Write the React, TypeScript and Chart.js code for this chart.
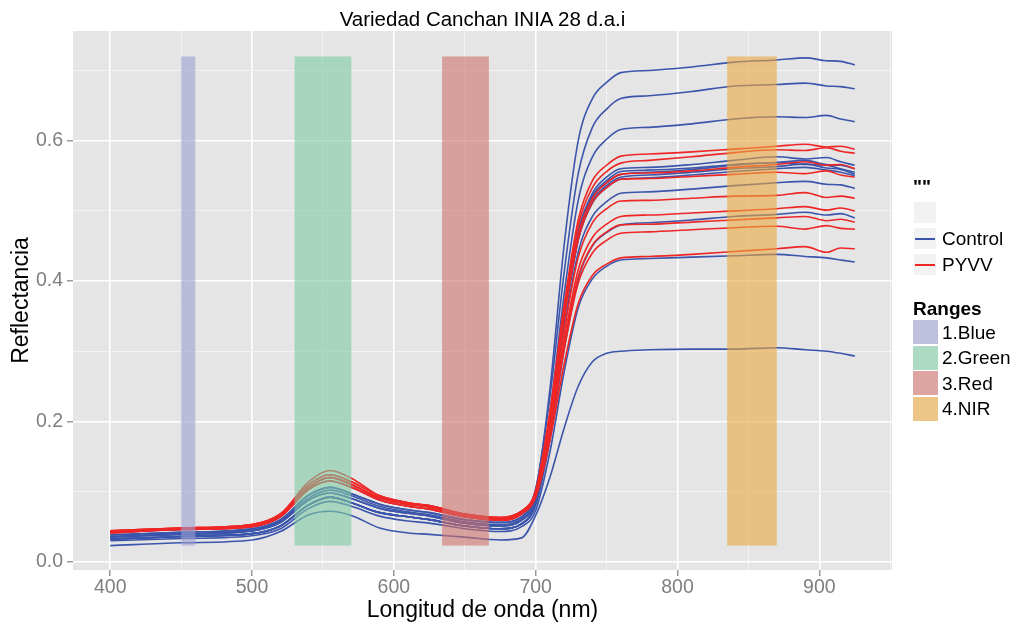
import React, { useEffect, useRef } from 'react';
import { Chart, registerables } from 'chart.js';

Chart.register(...registerables);

// Wavelengths (nm) at which the reflectance curves were read
const WAVELENGTHS = [400, 450, 500, 520, 540, 555, 570, 590, 610, 625, 650, 675, 690, 700, 710, 720, 730, 740, 750, 760, 780, 810, 840, 870, 890, 905, 915, 925];

// Control (blue) curves
const CONTROL_1 = [0.038, 0.042, 0.047, 0.060, 0.095, 0.106, 0.097, 0.082, 0.074, 0.070, 0.060, 0.056, 0.064, 0.102, 0.245, 0.450, 0.600, 0.660, 0.683, 0.697, 0.700, 0.705, 0.712, 0.715, 0.718, 0.714, 0.713, 0.708];
const CONTROL_2 = [0.041, 0.046, 0.050, 0.064, 0.103, 0.115, 0.106, 0.088, 0.079, 0.075, 0.064, 0.059, 0.068, 0.104, 0.234, 0.411, 0.553, 0.619, 0.645, 0.660, 0.664, 0.670, 0.678, 0.680, 0.682, 0.678, 0.677, 0.674];
const CONTROL_3 = [0.032, 0.036, 0.040, 0.051, 0.081, 0.092, 0.084, 0.070, 0.064, 0.060, 0.051, 0.047, 0.054, 0.088, 0.211, 0.380, 0.515, 0.577, 0.602, 0.616, 0.619, 0.624, 0.631, 0.634, 0.633, 0.636, 0.631, 0.627];
const CONTROL_4 = [0.038, 0.042, 0.047, 0.060, 0.095, 0.106, 0.097, 0.082, 0.074, 0.070, 0.060, 0.056, 0.064, 0.094, 0.203, 0.352, 0.471, 0.525, 0.548, 0.560, 0.562, 0.566, 0.572, 0.577, 0.574, 0.576, 0.570, 0.565];
const CONTROL_5 = [0.035, 0.039, 0.044, 0.056, 0.088, 0.098, 0.090, 0.076, 0.069, 0.065, 0.055, 0.051, 0.059, 0.089, 0.197, 0.345, 0.463, 0.517, 0.540, 0.552, 0.555, 0.559, 0.565, 0.569, 0.566, 0.565, 0.560, 0.555];
const CONTROL_6 = [0.032, 0.036, 0.040, 0.051, 0.081, 0.092, 0.084, 0.070, 0.064, 0.060, 0.051, 0.047, 0.054, 0.084, 0.192, 0.341, 0.459, 0.513, 0.536, 0.548, 0.551, 0.555, 0.560, 0.563, 0.567, 0.561, 0.559, 0.552];
const CONTROL_7 = [0.036, 0.040, 0.045, 0.058, 0.091, 0.102, 0.094, 0.079, 0.071, 0.067, 0.057, 0.053, 0.061, 0.090, 0.197, 0.342, 0.458, 0.511, 0.533, 0.545, 0.547, 0.551, 0.556, 0.560, 0.562, 0.558, 0.555, 0.550];
const CONTROL_8 = [0.035, 0.039, 0.044, 0.056, 0.088, 0.098, 0.090, 0.076, 0.069, 0.065, 0.055, 0.051, 0.059, 0.087, 0.189, 0.329, 0.441, 0.492, 0.513, 0.525, 0.527, 0.531, 0.536, 0.540, 0.542, 0.538, 0.537, 0.532];
const CONTROL_9 = [0.032, 0.036, 0.040, 0.051, 0.081, 0.092, 0.084, 0.070, 0.064, 0.060, 0.051, 0.047, 0.054, 0.080, 0.173, 0.301, 0.403, 0.450, 0.469, 0.480, 0.483, 0.487, 0.492, 0.495, 0.498, 0.494, 0.496, 0.490];
const CONTROL_10 = [0.030, 0.033, 0.037, 0.047, 0.076, 0.086, 0.079, 0.065, 0.058, 0.055, 0.047, 0.043, 0.050, 0.073, 0.156, 0.270, 0.362, 0.403, 0.421, 0.430, 0.432, 0.434, 0.436, 0.438, 0.435, 0.433, 0.430, 0.427];
const CONTROL_11 = [0.023, 0.027, 0.031, 0.043, 0.067, 0.072, 0.066, 0.048, 0.041, 0.039, 0.035, 0.031, 0.034, 0.066, 0.120, 0.190, 0.250, 0.285, 0.297, 0.300, 0.302, 0.303, 0.303, 0.305, 0.302, 0.300, 0.297, 0.293];
const CONTROL_12 = [0.032, 0.036, 0.040, 0.051, 0.081, 0.092, 0.084, 0.070, 0.064, 0.060, 0.051, 0.047, 0.054, 0.084, 0.195, 0.345, 0.466, 0.521, 0.543, 0.556, 0.558, 0.561, 0.566, 0.569, 0.572, 0.566, 0.565, 0.560];

// PYVV (red) curves
const PYVV_1 = [0.044, 0.048, 0.053, 0.068, 0.110, 0.124, 0.114, 0.094, 0.084, 0.080, 0.068, 0.063, 0.072, 0.102, 0.214, 0.365, 0.487, 0.543, 0.565, 0.578, 0.581, 0.584, 0.588, 0.592, 0.595, 0.591, 0.592, 0.588];
const PYVV_2 = [0.042, 0.047, 0.052, 0.066, 0.106, 0.120, 0.110, 0.091, 0.082, 0.078, 0.066, 0.061, 0.070, 0.100, 0.209, 0.359, 0.478, 0.533, 0.556, 0.568, 0.572, 0.577, 0.583, 0.587, 0.586, 0.590, 0.585, 0.582];
const PYVV_3 = [0.042, 0.047, 0.052, 0.066, 0.106, 0.120, 0.110, 0.091, 0.082, 0.078, 0.066, 0.061, 0.070, 0.099, 0.205, 0.350, 0.465, 0.518, 0.540, 0.552, 0.554, 0.557, 0.562, 0.566, 0.570, 0.565, 0.566, 0.560];
const PYVV_4 = [0.041, 0.046, 0.050, 0.064, 0.103, 0.115, 0.106, 0.088, 0.079, 0.075, 0.064, 0.059, 0.068, 0.097, 0.202, 0.345, 0.459, 0.512, 0.533, 0.545, 0.546, 0.549, 0.552, 0.555, 0.553, 0.557, 0.551, 0.548];
const PYVV_5 = [0.044, 0.048, 0.053, 0.068, 0.114, 0.130, 0.119, 0.094, 0.084, 0.080, 0.068, 0.063, 0.072, 0.099, 0.196, 0.328, 0.434, 0.483, 0.503, 0.514, 0.515, 0.518, 0.521, 0.522, 0.526, 0.519, 0.521, 0.518];
const PYVV_6 = [0.042, 0.047, 0.052, 0.066, 0.106, 0.120, 0.110, 0.091, 0.082, 0.078, 0.066, 0.061, 0.070, 0.095, 0.188, 0.315, 0.416, 0.462, 0.481, 0.492, 0.494, 0.497, 0.500, 0.503, 0.506, 0.501, 0.504, 0.500];
const PYVV_7 = [0.041, 0.046, 0.050, 0.064, 0.103, 0.115, 0.106, 0.088, 0.079, 0.075, 0.064, 0.059, 0.068, 0.093, 0.183, 0.307, 0.406, 0.451, 0.470, 0.480, 0.481, 0.484, 0.487, 0.490, 0.492, 0.486, 0.488, 0.484];
const PYVV_8 = [0.044, 0.048, 0.053, 0.068, 0.110, 0.124, 0.114, 0.094, 0.084, 0.080, 0.068, 0.063, 0.072, 0.096, 0.183, 0.302, 0.397, 0.440, 0.458, 0.468, 0.470, 0.473, 0.476, 0.478, 0.474, 0.479, 0.475, 0.474];
const PYVV_9 = [0.042, 0.047, 0.052, 0.066, 0.106, 0.120, 0.110, 0.091, 0.082, 0.078, 0.066, 0.061, 0.070, 0.092, 0.172, 0.281, 0.368, 0.408, 0.424, 0.433, 0.435, 0.438, 0.442, 0.446, 0.449, 0.441, 0.447, 0.446];

const CONTROL_SERIES = [CONTROL_1, CONTROL_2, CONTROL_3, CONTROL_4, CONTROL_5, CONTROL_6, CONTROL_7, CONTROL_8, CONTROL_9, CONTROL_10, CONTROL_11, CONTROL_12];
const PYVV_SERIES = [PYVV_1, PYVV_2, PYVV_3, PYVV_4, PYVV_5, PYVV_6, PYVV_7, PYVV_8, PYVV_9];

// Spectral ranges (shaded rectangles)
const RANGE_LABELS = ['1.Blue', '2.Green', '3.Red', '4.NIR'];
const RANGE_START = [450, 530, 634, 835];
const RANGE_END = [460, 570, 667, 870];
const RANGE_LOW = [0.023, 0.023, 0.023, 0.023];
const RANGE_HIGH = [0.72, 0.72, 0.72, 0.72];
const RANGE_COLORS = ['rgba(156,159,209,0.6)', 'rgba(127,202,164,0.6)', 'rgba(207,114,107,0.6)', 'rgba(234,167,61,0.6)'];

// Axis ticks
const X_MAJOR_TICKS = [400, 500, 600, 700, 800, 900];
const X_MINOR_TICKS = [450, 550, 650, 750, 850, 950];
const Y_MAJOR_TICKS = [0, 0.2, 0.4, 0.6];
const Y_MINOR_TICKS = [0.1, 0.3, 0.5, 0.7];

const SERIES_NAMES = ['Control', 'PYVV'];
const SERIES_COLORS = ['#3a55ab', '#ef2626'];

const FONT = '"Liberation Sans", Arial, Helvetica, sans-serif';

const isIn = (arr: number[], v: number) => arr.some((m) => Math.abs(m - v) < 1e-9);

const panelPlugin = {
  id: 'panelAndRanges',
  beforeDraw(chart: any) {
    const { ctx, chartArea } = chart;
    ctx.save();
    ctx.fillStyle = '#e5e5e5';
    ctx.fillRect(chartArea.left, chartArea.top, chartArea.right - chartArea.left, chartArea.bottom - chartArea.top);
    ctx.restore();
  },
  afterDatasetsDraw(chart: any) {
    const { ctx, chartArea } = chart;
    const xs = chart.scales.x;
    const ys = chart.scales.y;
    ctx.save();
    ctx.beginPath();
    ctx.rect(chartArea.left, chartArea.top, chartArea.right - chartArea.left, chartArea.bottom - chartArea.top);
    ctx.clip();
    RANGE_START.forEach((s, i) => {
      const x1 = xs.getPixelForValue(s);
      const x2 = xs.getPixelForValue(RANGE_END[i]);
      const y1 = ys.getPixelForValue(RANGE_HIGH[i]);
      const y2 = ys.getPixelForValue(RANGE_LOW[i]);
      ctx.fillStyle = RANGE_COLORS[i];
      ctx.fillRect(x1, y1, x2 - x1, y2 - y1);
    });
    ctx.restore();
  },
};

export default function App() {
  const canvasRef = useRef<HTMLCanvasElement | null>(null);

  useEffect(() => {
    if (!canvasRef.current) return;
    const mk = (series: number[], color: string) => ({
      data: WAVELENGTHS.map((w, i) => ({ x: w, y: series[i] })),
      borderColor: color,
      borderWidth: 1.6,
      pointRadius: 0,
      fill: false,
      cubicInterpolationMode: 'monotone' as const,
    });
    const datasets = [
      ...PYVV_SERIES.map((s) => mk(s, SERIES_COLORS[1])),
      ...CONTROL_SERIES.map((s) => mk(s, SERIES_COLORS[0])),
    ];

    const chart = new Chart(canvasRef.current, {
      type: 'line',
      data: { datasets },
      options: {
        responsive: false,
        animation: false,
        events: [],
        layout: { padding: { left: 0, top: 31, right: 124, bottom: 0 } },
        plugins: {
          legend: { display: false },
          tooltip: { enabled: false },
          title: { display: false },
        },
        scales: {
          x: {
            type: 'linear',
            min: 373.75,
            max: 951.25,
            afterFit: (s: any) => { s.height = 55; },
            afterBuildTicks: (s: any) => {
              s.ticks = [...X_MAJOR_TICKS, ...X_MINOR_TICKS].sort((a, b) => a - b).map((v) => ({ value: v }));
            },
            border: { display: false },
            grid: {
              color: (c: any) => (isIn(X_MAJOR_TICKS, c.tick?.value) ? '#ffffff' : '#f3f3f3'),
              lineWidth: (c: any) => (isIn(X_MAJOR_TICKS, c.tick?.value) ? 1.6 : 1),
              tickColor: (c: any) => (isIn(X_MAJOR_TICKS, c.tick?.value) ? '#7f7f7f' : 'rgba(0,0,0,0)'),
              tickLength: 6,
              tickWidth: 1.2,
            },
            ticks: {
              autoSkip: false,
              maxRotation: 0,
              minRotation: 0,
              padding: 0,
              color: '#7f7f7f',
              font: { family: FONT, size: 19.5 },
              callback: (v: any) => (isIn(X_MAJOR_TICKS, Number(v)) ? String(v) : ''),
            },
            title: {
              display: true,
              text: 'Longitud de onda (nm)',
              color: '#000000',
              font: { family: FONT, size: 23 },
              padding: { top: 0, bottom: 1 },
            },
          },
          y: {
            type: 'linear',
            min: -0.0118,
            max: 0.7563,
            afterFit: (s: any) => { s.width = 73; },
            afterBuildTicks: (s: any) => {
              s.ticks = [...Y_MAJOR_TICKS, ...Y_MINOR_TICKS].sort((a, b) => a - b).map((v) => ({ value: v }));
            },
            border: { display: false },
            grid: {
              color: (c: any) => (isIn(Y_MAJOR_TICKS, c.tick?.value) ? '#ffffff' : '#f3f3f3'),
              lineWidth: (c: any) => (isIn(Y_MAJOR_TICKS, c.tick?.value) ? 1.6 : 1),
              tickColor: (c: any) => (isIn(Y_MAJOR_TICKS, c.tick?.value) ? '#7f7f7f' : 'rgba(0,0,0,0)'),
              tickLength: 6,
              tickWidth: 1.2,
            },
            ticks: {
              autoSkip: false,
              padding: 4,
              color: '#7f7f7f',
              font: { family: FONT, size: 19.5 },
              callback: (v: any) => (isIn(Y_MAJOR_TICKS, Number(v)) ? Number(v).toFixed(1) : ''),
            },
            title: {
              display: true,
              text: 'Reflectancia',
              color: '#000000',
              font: { family: FONT, size: 23 },
              padding: { top: 8, bottom: 0 },
            },
          },
        },
      },
      plugins: [panelPlugin],
    });
    return () => chart.destroy();
  }, []);

  const textStyle = (top: number, left: number, size: number, bold = false): React.CSSProperties => ({
    position: 'absolute',
    top,
    left,
    fontSize: size,
    lineHeight: `${size}px`,
    fontWeight: bold ? 'bold' : 'normal',
    color: '#000',
    whiteSpace: 'nowrap',
  });

  const lineKeyTops = [202, 228, 254];
  const rangeKeyTops = [320, 345.5, 371, 396.5];

  return (
    <div style={{ position: 'fixed', left: 0, top: 0, width: 1016, height: 625, background: '#ffffff', fontFamily: FONT, overflow: 'hidden' }}>
      <canvas ref={canvasRef} width={1016} height={625} style={{ position: 'absolute', left: 0, top: 0, width: 1016, height: 625 }} />
      <div style={{ position: 'absolute', top: 9, left: 0, width: 965, textAlign: 'center', fontSize: 20.5, lineHeight: '20.5px', color: '#000', whiteSpace: 'nowrap' }}>
        Variedad Canchan INIA 28 d.a.i
      </div>

      {/* Colour legend */}
      <div style={textStyle(176.5, 913, 19, true)}>""</div>
      {lineKeyTops.map((t, i) => (
        <div key={'lk' + i} style={{ position: 'absolute', top: t, left: 914, width: 22, height: 21, background: '#f2f2f2' }}>
          {i > 0 && (
            <div style={{ position: 'absolute', left: 1, right: 1, top: 9.5, height: 2, background: SERIES_COLORS[i - 1] }} />
          )}
        </div>
      ))}
      {SERIES_NAMES.map((n, i) => (
        <div key={'ln' + i} style={textStyle(lineKeyTops[i + 1] + 1, 942, 19)}>{n}</div>
      ))}

      {/* Ranges legend */}
      <div style={textStyle(298.5, 913, 19, true)}>Ranges</div>
      {RANGE_LABELS.map((lab, i) => (
        <React.Fragment key={'rg' + i}>
          <div style={{ position: 'absolute', top: rangeKeyTops[i], left: 913, width: 25, height: 24, background: '#f2f2f2' }}>
            <div style={{ position: 'absolute', inset: 0, background: RANGE_COLORS[i] }} />
          </div>
          <div style={textStyle(rangeKeyTops[i] + 2.5, 942, 19)}>{lab}</div>
        </React.Fragment>
      ))}
    </div>
  );
}
